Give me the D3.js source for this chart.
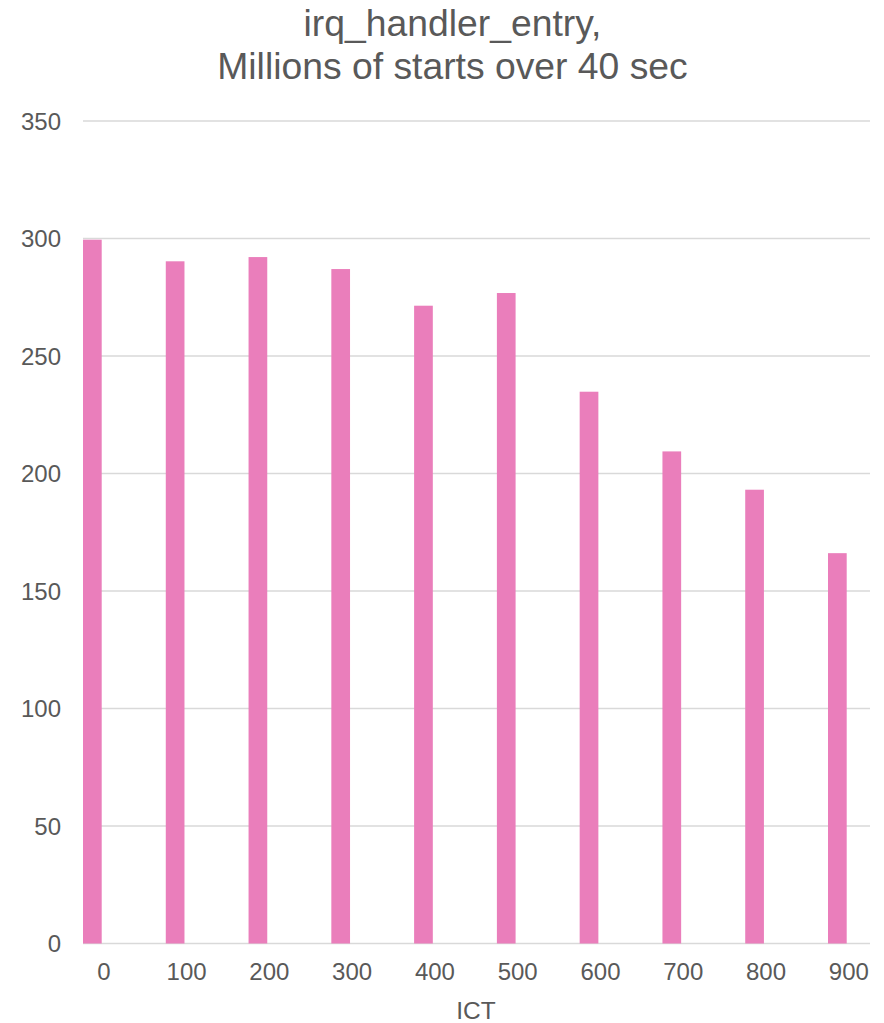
<!DOCTYPE html>
<html>
<head>
<meta charset="utf-8">
<script src="https://cdn.jsdelivr.net/npm/d3@7"></script>
<style>
  html, body { margin: 0; padding: 0; background: #ffffff; }
  svg { display: block; font-family: "Liberation Sans", Arial, sans-serif; }
</style>
</head>
<body>
<svg id="chart" width="884" height="1023"></svg>
<script>
// ICT setting vs. irq_handler_entry starts (millions, 40 s run)
const categories = ["0", "100", "200", "300", "400", "500", "600", "700", "800", "900"];
const starts = [299.5, 290.3, 292.1, 287.0, 271.4, 276.8, 234.8, 209.4, 193.1, 166.1];
const yTicks = [0, 50, 100, 150, 200, 250, 300, 350];
const titleLines = ["irq_handler_entry,", "Millions of starts over 40 sec"];
const xTitle = "ICT";

const svg = d3.select("#chart");
const textColor = "#595959";
const gridColor = "#D9D9D9";
const barColor = "#EA7EBB";

const plotLeft = 83, plotRight = 870, plotTop = 121, plotBottom = 943.5;

const y = d3.scaleLinear().domain([0, 350]).range([plotBottom, plotTop]);
// category centres; each bar sits just left of its category label
const x = d3.scalePoint().domain(categories).range([103.3, 848.3]);
const barWidth = 18.7, barOffset = -20.3;

// title
svg.append("g")
  .selectAll("text")
  .data(titleLines)
  .join("text")
  .attr("x", 452.5)
  .attr("y", (d, i) => 36 + i * 43)
  .attr("text-anchor", "middle")
  .attr("font-size", 37.3)
  .attr("fill", textColor)
  .text(d => d);

// horizontal gridlines
svg.append("g")
  .selectAll("line")
  .data(yTicks)
  .join("line")
  .attr("x1", plotLeft)
  .attr("x2", plotRight)
  .attr("y1", d => y(d))
  .attr("y2", d => y(d))
  .attr("stroke", gridColor)
  .attr("stroke-width", 1.5);

// y axis labels
const yAxis = d3.axisLeft(y).tickValues(yTicks).tickSize(0).tickPadding(0);
svg.append("g")
  .attr("transform", "translate(61,0)")
  .call(yAxis)
  .call(g => g.select(".domain").remove())
  .call(g => g.selectAll("text")
    .attr("font-size", 24)
    .attr("font-family", "Liberation Sans, Arial, sans-serif")
    .attr("fill", textColor)
    .attr("dy", "0.35em"));

// bars
svg.append("g")
  .selectAll("rect")
  .data(categories.map((c, i) => ({ c, v: starts[i] })))
  .join("rect")
  .attr("x", d => x(d.c) + barOffset)
  .attr("width", barWidth)
  .attr("y", d => y(d.v))
  .attr("height", d => y(0) - y(d.v))
  .attr("fill", barColor);

// x axis labels
const xAxis = d3.axisBottom(x).tickSize(0).tickPadding(0);
svg.append("g")
  .attr("transform", "translate(0,963)")
  .call(xAxis)
  .call(g => g.select(".domain").remove())
  .call(g => g.selectAll("text")
    .attr("font-size", 24)
    .attr("font-family", "Liberation Sans, Arial, sans-serif")
    .attr("fill", textColor)
    .attr("dy", "0.71em"));

// x axis title
svg.append("text")
  .attr("x", 476)
  .attr("y", 1019)
  .attr("text-anchor", "middle")
  .attr("font-size", 24.5)
  .attr("fill", textColor)
  .text(xTitle);
</script>
</body>
</html>
